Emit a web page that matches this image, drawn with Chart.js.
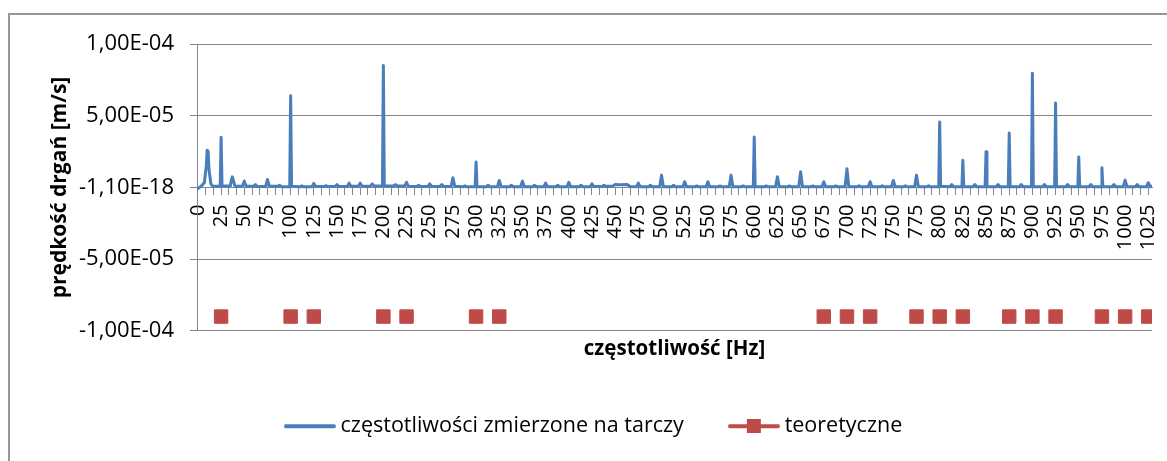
<!DOCTYPE html>
<html lang="pl">
<head>
<meta charset="utf-8">
<title>Prędkość drgań tarczy</title>
<script src="https://cdn.jsdelivr.net/npm/chart.js@4.4.1/dist/chart.umd.min.js"></script>
<style>
  html, body { margin: 0; padding: 0; background: #fff; overflow: hidden; }
  .frame { position: absolute; left: 8px; top: 13px; width: 1300px; height: 600px; border: 2px solid #969696; }
  #chart { position: absolute; left: 0; top: 0; }
</style>
</head>
<body>
<div class="frame"></div>
<canvas id="chart" width="1167" height="461"></canvas>
<script>
// measured spectrum: frequency [Hz] and velocity in 1e-5 m/s
const freqHz = [
  0, 4, 7, 9, 10, 11, 12, 14, 16,
  24, 25, 26,
  35, 36, 37, 38, 40,
  48, 50, 52,
  60, 62, 64,
  73, 75, 77,
  86, 88, 90,
  99, 100, 101,
  110, 112, 114,
  123, 125, 127,
  136, 138, 140,
  148, 150, 152,
  161, 163, 165,
  173, 175, 177,
  186, 188, 190,
  199, 200, 201,
  211, 213, 215,
  223, 225, 227,
  236, 238, 240,
  248, 250, 252,
  261, 263, 265,
  273, 275, 277,
  286, 288, 290,
  299, 300, 301,
  311, 313, 315,
  323, 325, 327,
  336, 338, 340,
  348, 350, 352,
  361, 363, 365,
  373, 375, 377,
  386, 388, 390,
  398, 400, 402,
  411, 413, 415,
  423, 425, 427,
  436, 438, 440,
  447, 450, 456, 463, 466,
  473, 475, 477,
  486, 488, 490,
  498, 500, 502,
  511, 513, 515,
  523, 525, 527,
  536, 538, 540,
  548, 550, 552,
  561, 563, 565,
  573, 575, 577,
  586, 588, 590,
  599, 600, 601,
  611, 613, 615,
  623, 625, 627,
  636, 638, 640,
  648, 650, 652,
  661, 663, 665,
  673, 675, 677,
  686, 688, 690,
  698, 700, 702,
  711, 713, 715,
  723, 725, 727,
  736, 738, 740,
  748, 750, 752,
  761, 763, 765,
  773, 775, 777,
  786, 788, 790,
  799, 800, 801,
  811, 813, 815,
  824, 825, 826,
  836, 838, 840,
  849, 850, 851,
  861, 863, 865,
  874, 875, 876,
  886, 888, 890,
  899, 900, 901,
  911, 913, 915,
  924, 925, 926,
  936, 938, 940,
  949, 950, 951,
  961, 963, 965,
  974, 975, 976,
  986, 988, 990,
  998, 1000, 1002,
  1011, 1013, 1015,
  1023, 1025, 1027, 1029
];
const velocityE5 = [
  -0.08, 0.12, 0.35, 1.5, 2.6, 2.5, 1.2, 0.25, 0.08,
  0.08, 3.5, 0.1,
  0.1, 0.5, 0.74, 0.55, 0.08,
  0.08, 0.44, 0.08,
  0.08, 0.2, 0.06,
  0.06, 0.56, 0.08,
  0.08, 0.15, 0.05,
  0.05, 6.39, 0.08,
  0.05, 0.1, 0.05,
  0.05, 0.28, 0.06,
  0.06, 0.12, 0.06,
  0.06, 0.2, 0.07,
  0.07, 0.3, 0.08,
  0.08, 0.3, 0.08,
  0.08, 0.25, 0.1,
  0.1, 8.5, 0.12,
  0.1, 0.2, 0.1,
  0.1, 0.35, 0.08,
  0.06, 0.15, 0.06,
  0.06, 0.25, 0.07,
  0.07, 0.2, 0.06,
  0.06, 0.67, 0.08,
  0.05, 0.1, 0.05,
  0.05, 1.78, 0.05,
  0.05, 0.15, 0.05,
  0.05, 0.49, 0.05,
  0.05, 0.15, 0.05,
  0.05, 0.44, 0.05,
  0.05, 0.15, 0.05,
  0.05, 0.3, 0.05,
  0.05, 0.15, 0.05,
  0.05, 0.35, 0.05,
  0.05, 0.15, 0.05,
  0.05, 0.25, 0.06,
  0.06, 0.15, 0.08,
  0.08, 0.2, 0.18, 0.2, 0.06,
  0.05, 0.3, 0.05,
  0.05, 0.15, 0.05,
  0.05, 0.86, 0.05,
  0.05, 0.15, 0.05,
  0.05, 0.4, 0.05,
  0.05, 0.1, 0.05,
  0.05, 0.4, 0.05,
  0.05, 0.1, 0.05,
  0.05, 0.86, 0.05,
  0.05, 0.1, 0.05,
  0.05, 3.52, 0.05,
  0.05, 0.1, 0.05,
  0.05, 0.74, 0.05,
  0.05, 0.1, 0.05,
  0.05, 1.09, 0.05,
  0.05, 0.1, 0.05,
  0.05, 0.4, 0.05,
  0.05, 0.1, 0.05,
  0.05, 1.3, 0.05,
  0.05, 0.12, 0.05,
  0.05, 0.4, 0.05,
  0.05, 0.12, 0.05,
  0.05, 0.49, 0.05,
  0.05, 0.12, 0.05,
  0.05, 0.86, 0.05,
  0.05, 0.12, 0.05,
  0.05, 4.56, 0.08,
  0.05, 0.2, 0.05,
  0.05, 1.9, 0.05,
  0.05, 0.2, 0.05,
  0.05, 2.48, 0.05,
  0.05, 0.2, 0.05,
  0.05, 3.8, 0.05,
  0.05, 0.2, 0.05,
  0.05, 7.96, 0.05,
  0.05, 0.2, 0.05,
  0.05, 5.88, 0.05,
  0.05, 0.2, 0.05,
  0.05, 2.13, 0.05,
  0.05, 0.2, 0.05,
  0.05, 1.37, 0.05,
  0.05, 0.2, 0.05,
  0.05, 0.51, 0.05,
  0.05, 0.2, 0.05,
  0.05, 0.33, 0.05, 0.08
];

// theoretical disc frequencies, plotted as markers on a fixed level [m/s]
const theoryHz = [25, 100, 125, 200, 225, 300, 325, 675, 700, 725, 775, 800, 825, 875, 900, 925, 975, 1000, 1025];
const theoryLevel = [-9e-5, -9e-5, -9e-5, -9e-5, -9e-5, -9e-5, -9e-5, -9e-5, -9e-5, -9e-5,
                     -9e-5, -9e-5, -9e-5, -9e-5, -9e-5, -9e-5, -9e-5, -9e-5, -9e-5];

const yTickLabels = ['-1,00E-04', '-5,00E-05', '-1,10E-18', '5,00E-05', '1,00E-04'];
const seriesNames = ['częstotliwości zmierzone na tarczy', 'teoretyczne'];

const BLUE = '#4a7ebb';
const RED = '#be4b48';
const GRID = '#868686';
const X_MIN = -1;
const X_MAX = 1029;
const LABEL_STEP = 25;     // Hz between labelled ticks
const MINOR_PER_LABEL = 3; // tick marks per label step

const measured = freqHz.map((f, i) => ({ x: f, y: velocityE5[i] * 1e-5 }));
const theory = theoryHz.map((f, i) => ({ x: f, y: theoryLevel[i] }));

// legend symbols in the Excel style: plain line / line with a square marker
function legendIcon(color, withSquare) {
  const c = document.createElement('canvas');
  c.width = 52;
  c.height = 14;
  const g = c.getContext('2d');
  g.strokeStyle = color;
  g.lineWidth = 4;
  g.lineCap = 'round';
  g.beginPath();
  g.moveTo(2, 7);
  g.lineTo(50, 7);
  g.stroke();
  if (withSquare) {
    g.fillStyle = color;
    g.fillRect(19, 0, 14, 14);
  }
  return c;
}
const icons = [legendIcon(BLUE, false), legendIcon(RED, true)];

Chart.defaults.font.family = '"Open Sans", sans-serif';
Chart.defaults.color = '#000';

new Chart(document.getElementById('chart'), {
  type: 'line',
  data: {
    datasets: [{
      label: seriesNames[0],
      data: measured,
      borderColor: BLUE,
      backgroundColor: BLUE,
      borderWidth: 3,
      borderJoinStyle: 'round',
      borderCapStyle: 'round',
      pointRadius: 0,
      tension: 0
    }, {
      label: seriesNames[1],
      data: theory,
      showLine: false,
      borderColor: RED,
      backgroundColor: RED,
      borderWidth: 1,
      pointStyle: 'rect',
      pointRadius: 9.5
    }]
  },
  options: {
    responsive: false,
    animation: false,
    devicePixelRatio: 1,
    events: [],
    layout: { padding: { left: 40, right: 15, top: 44, bottom: 14 } },
    scales: {
      x: {
        type: 'linear',
        position: { y: 0 },
        min: X_MIN,
        max: X_MAX,
        afterBuildTicks: (scale) => {
          const ticks = [];
          const step = LABEL_STEP / MINOR_PER_LABEL;
          for (let i = 0; i * step <= 1025 + 1e-6; i++) ticks.push({ value: i * step });
          scale.ticks = ticks;
        },
        // rotated end labels should not pull the plot edges inwards
        afterFit: (scale) => { scale.paddingLeft = 0; scale.paddingRight = 0; },
        ticks: {
          autoSkip: false,
          minRotation: 90,
          maxRotation: 90,
          padding: 10,
          font: { size: 20 },
          callback: (value, i) => (i % MINOR_PER_LABEL === 0 ? String(i / MINOR_PER_LABEL * LABEL_STEP) : '')
        },
        grid: { drawOnChartArea: false, drawTicks: true, tickLength: 7, color: GRID },
        border: { display: true, color: GRID }
      },
      // carries only the axis title below the plot
      xTitle: {
        type: 'linear',
        axis: 'x',
        position: 'bottom',
        min: X_MIN,
        max: X_MAX,
        grid: { display: false, drawTicks: false },
        border: { display: false },
        ticks: { display: false },
        title: {
          display: true,
          text: 'częstotliwość [Hz]',
          font: { size: 20.5, weight: 'bold' },
          padding: { top: 6, bottom: 4 }
        }
      },
      y: {
        min: -1e-4,
        max: 1e-4,
        afterFit: (scale) => { scale.width = 157; },
        ticks: {
          stepSize: 5e-5,
          padding: 16,
          font: { size: 22 },
          callback: (value) => yTickLabels[Math.round(value / 5e-5) + 2]
        },
        grid: { color: GRID, tickLength: 7 },
        border: { display: true, color: GRID },
        title: {
          display: true,
          text: 'prędkość drgań [m/s]',
          font: { size: 21, weight: 'bold' },
          padding: { top: 7, bottom: 0 }
        }
      }
    },
    plugins: {
      tooltip: { enabled: false },
      legend: {
        position: 'bottom',
        labels: {
          usePointStyle: true,
          pointStyleWidth: 40,
          padding: 50,
          font: { size: 21.5 },
          generateLabels: (chart) => {
            const items = Chart.defaults.plugins.legend.labels.generateLabels(chart);
            items.forEach((item, i) => { item.pointStyle = icons[i]; });
            return items;
          }
        }
      }
    }
  }
});
</script>
</body>
</html>
